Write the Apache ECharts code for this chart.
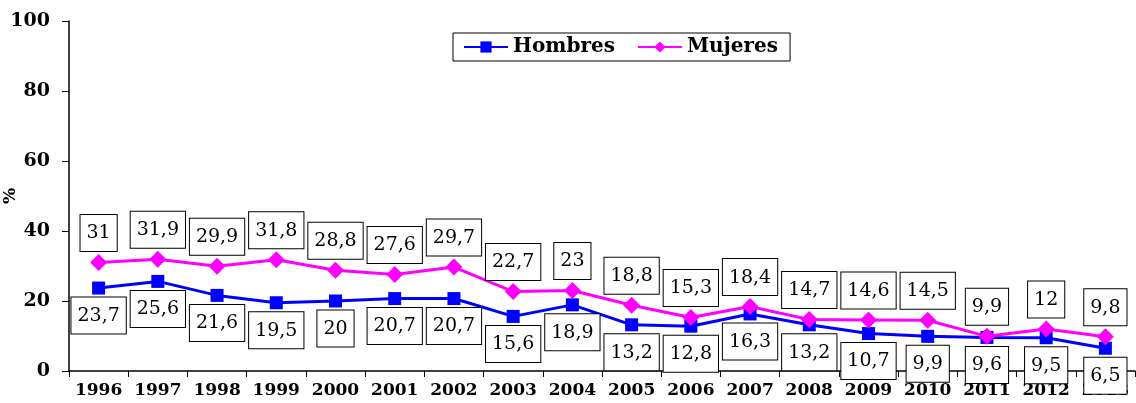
<!DOCTYPE html>
<html>
<head>
<meta charset="utf-8">
<script src="https://cdn.jsdelivr.net/npm/echarts@6/dist/echarts.min.js"></script>
<style>
  html, body { margin: 0; padding: 0; background: #fff; }
  #chart { width: 1136px; height: 403px; }
</style>
</head>
<body>
<div id="chart"></div>
<script>
var years = ['1996', '1997', '1998', '1999', '2000', '2001', '2002', '2003', '2004',
             '2005', '2006', '2007', '2008', '2009', '2010', '2011', '2012', '2013'];
var hombres = [23.7, 25.6, 21.6, 19.5, 20, 20.7, 20.7, 15.6, 18.9, 13.2, 12.8, 16.3, 13.2, 10.7, 9.9, 9.6, 9.5, 6.5];
var mujeres = [31, 31.9, 29.9, 31.8, 28.8, 27.6, 29.7, 22.7, 23, 18.8, 15.3, 18.4, 14.7, 14.6, 14.5, 9.9, 12, 9.8];

var serif = '"DejaVu Serif", "Liberation Serif", serif';

function boxLabel(pos) {
    return {
        show: true,
        position: pos,
        distance: 3,
        fontFamily: serif,
        fontSize: 19,
        color: '#000',
        backgroundColor: '#fff',
        borderColor: '#000',
        borderWidth: 1,
        padding: [9, 6, 8, 6],
        formatter: function (p) { return String(p.value).replace('.', ','); }
    };
}

var chart = echarts.init(document.getElementById('chart'));
chart.setOption({
    backgroundColor: '#fff',
    animation: false,
    grid: { left: 69, right: 1, top: 21, bottom: 32, outerBoundsMode: 'none', containLabel: false },
    legend: {
        left: 453,
        top: 33,
        padding: [4, 12, 4, 10],
        borderColor: '#000',
        borderWidth: 1,
        itemWidth: 44,
        itemHeight: 14,
        itemGap: 22,
        textStyle: { fontFamily: serif, fontSize: 20, fontWeight: 'bold', color: '#000' },
        data: ['Hombres', 'Mujeres']
    },
    xAxis: {
        type: 'category',
        data: years,
        axisLine: { lineStyle: { color: '#000', width: 1.5 } },
        axisTick: { show: true, length: 6, interval: 0, lineStyle: { color: '#000' } },
        axisLabel: { interval: 0, margin: 11, fontFamily: serif, fontSize: 17, fontWeight: 'bold', color: '#000', hideOverlap: false }
    },
    yAxis: {
        type: 'value',
        min: 0,
        max: 100,
        interval: 20,
        name: '%',
        nameLocation: 'middle',
        nameRotate: 90,
        nameGap: 50,
        nameMoveOverlap: false,
        nameTextStyle: { fontFamily: serif, fontSize: 17, fontWeight: 'bold', color: '#000' },
        splitLine: { show: false },
        axisLine: { show: true, lineStyle: { color: '#000', width: 1.5 } },
        axisTick: { show: true, length: 7, lineStyle: { color: '#000' } },
        axisLabel: { margin: 19, fontFamily: serif, fontSize: 19, fontWeight: 'bold', color: '#000' }
    },
    series: [
        {
            name: 'Hombres',
            type: 'line',
            data: hombres,
            symbol: 'rect',
            symbolSize: 13,
            itemStyle: { color: '#0000ff' },
            lineStyle: { color: '#0000ff', width: 3 },
            label: boxLabel('bottom')
        },
        {
            name: 'Mujeres',
            type: 'line',
            data: mujeres,
            symbol: 'diamond',
            symbolSize: 17,
            itemStyle: { color: '#ff00ff' },
            lineStyle: { color: '#ff00ff', width: 3 },
            label: boxLabel('top')
        }
    ]
});
</script>
</body>
</html>
